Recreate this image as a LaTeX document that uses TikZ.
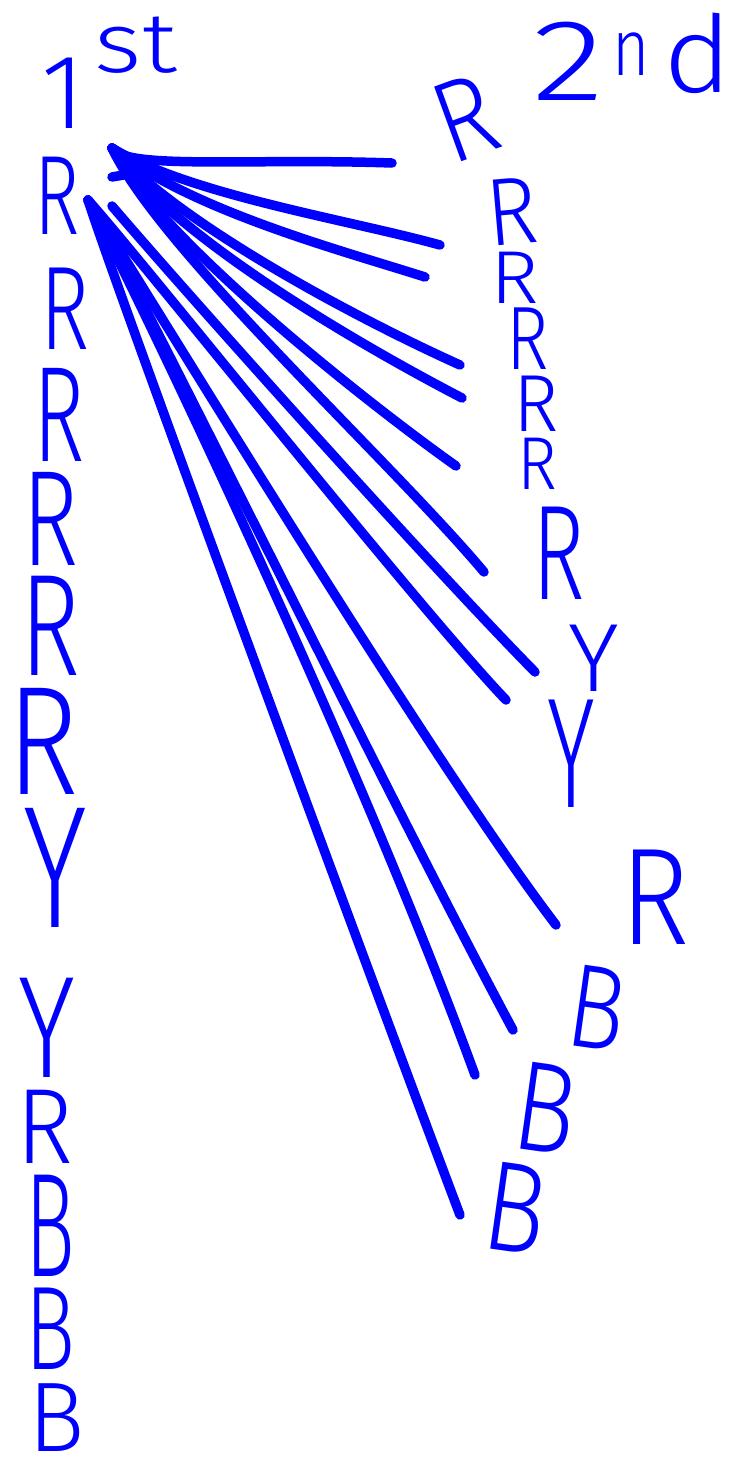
\documentclass[tikz,border=0pt]{standalone}
\usepackage{fontspec}
\setmainfont{Fira Sans Light}
\newcommand{\hx}[2]{\scalebox{#1}[1]{#2}}
\begin{document}
\begin{tikzpicture}[x=1pt,y=-1pt,
 ln/.style={draw=blue, line width=9.5pt, line cap=round, line join=round},
 lt/.style={text=blue, inner sep=0pt, outer sep=0pt, font=\fontsize{#1}{#1}\selectfont}]
\useasboundingbox (0,0) rectangle (754,1484);
\fill[white] (0,0) rectangle (754,1484);
% headings
\node[lt=106, anchor=base west] (first) at (41,128) {1\hspace{10pt}\raisebox{56pt}{\fontsize{85}{85}\selectfont \hx{1.2}{st}}};
\node[lt=116, anchor=base west] (second) at (532,100) {\hx{1.3}{2}\hspace{8pt}\raisebox{25pt}{\fontsize{80}{80}\selectfont \hx{.8}{n}}\hspace{14pt}\raisebox{8pt}{\fontsize{107}{107}\selectfont \hx{1.1}{d}}};
% first draw column
\node[lt=113] (l1) at (57,196) {\hx{.68}{R}};
\node[lt=119] (l2) at (65,309) {\hx{.7}{R}};
\node[lt=136] (l3) at (59,415) {\hx{.64}{R}};
\node[lt=136] (l4) at (51,519) {\hx{.7}{R}};
\node[lt=145] (l5) at (50,626) {\hx{.7}{R}};
\node[lt=155] (l6) at (43,741) {\hx{.78}{R}};
\node[lt=174] (l7) at (55,868) {\hx{.7}{Y}};
\node[lt=145] (l8) at (47,1028) {\hx{.75}{Y}};
\node[lt=107] (l9) at (45,1127) {\hx{.9}{R}};
\node[lt=148] (l10) at (50,1226) {\hx{.56}{B}};
\node[lt=119] (l11) at (50,1329) {\hx{.7}{B}};
\node[lt=99] (l12) at (57,1418) {\hx{.95}{B}};
% second draw column
\node[lt=116, rotate=20] (r1) at (465,118) {\hx{.85}{R}};
\node[lt=96, rotate=5] (r2) at (512,212) {\hx{.9}{R}};
\node[lt=75] (r3) at (515,278) {\hx{1.1}{R}};
\node[lt=90] (r4) at (528,339) {\hx{.8}{R}};
\node[lt=81] (r5) at (536,404) {\hx{.95}{R}};
\node[lt=75] (r6) at (537,464) {\hx{.9}{R}};
\node[lt=135] (r7) at (559,553) {\hx{.66}{R}};
\node[lt=97] (r8) at (594,658) {\hx{1}{Y}};
\node[lt=157] (r9) at (571,754) {\hx{.58}{Y}};
\node[lt=138] (r10) at (655,897) {\hx{.85}{R}};
\node[lt=119, rotate=-8] (r11) at (597,1008) {\hx{.8}{B}};
\node[lt=128, rotate=-8] (r12) at (546,1108) {\hx{.8}{B}};
\node[lt=128, rotate=-8] (r13) at (516,1208) {\hx{.8}{B}};
% connector ends
\coordinate (fanA) at (112,148);
\coordinate (fanB) at (112,206);
\coordinate (root) at (88,200);
\coordinate (sA) at (112,177);
\coordinate (sB) at (135,173);
\coordinate (e1) at (392,163);
\coordinate (e2) at (440,245);
\coordinate (e3) at (425,277);
\coordinate (e4) at (460,365);
\coordinate (e5) at (462,398);
\coordinate (e6) at (456,466);
\coordinate (e7) at (484,572);
\coordinate (e8) at (535,672);
\coordinate (e9) at (506,700);
\coordinate (e10) at (556,925);
\coordinate (e11) at (513,1030);
\coordinate (e12) at (475,1075);
\coordinate (e13) at (460,1215);
% connectors
\draw[ln] (sA) -- (sB);
\draw[ln] (fanA) .. controls (125,170) and (250,158) .. (e1);
\draw[ln] (fanA) .. controls (190,195) and (350,220) .. (e2);
\draw[ln] (fanA) .. controls (190,210) and (340,250) .. (e3);
\draw[ln] (fanA) .. controls (180,225) and (360,320) .. (e4);
\draw[ln] (fanA) .. controls (170,235) and (360,345) .. (e5);
\draw[ln] (fanA) .. controls (160,240) and (370,405) .. (e6);
\draw[ln] (fanA) .. controls (160,250) and (390,460) .. (e7);
\draw[ln] (fanB) .. controls (175,280) and (420,555) .. (e8);
\draw[ln] (root) .. controls (150,270) and (420,610) .. (e9);
\draw[ln] (root) .. controls (140,280) and (430,760) .. (e10);
\draw[ln] (root) .. controls (140,290) and (400,820) .. (e11);
\draw[ln] (root) .. controls (150,320) and (360,760) .. (e12);
\draw[ln] (root) .. controls (120,300) and (390,1030) .. (e13);
\end{tikzpicture}
\end{document}
